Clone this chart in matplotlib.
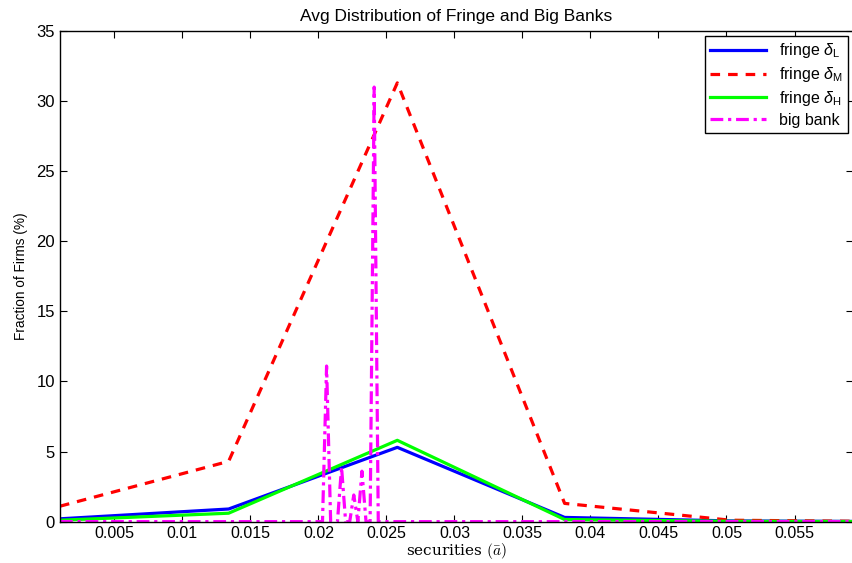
import matplotlib.pyplot as plt

plt.rcParams["font.family"] = ["Liberation Sans", "DejaVu Sans"]
plt.rcParams["mathtext.fontset"] = "custom"
plt.rcParams["mathtext.rm"] = "Liberation Sans"
plt.rcParams["mathtext.it"] = "Liberation Sans:italic"

# fringe grid
x_fringe = [0.001, 0.0134, 0.0258, 0.0381, 0.0503, 0.0626]
fringe_L = [0.2, 0.9, 5.3, 0.3, 0.05, 0.0]
fringe_M = [1.1, 4.3, 31.3, 1.3, 0.1, 0.0]
fringe_H = [0.1, 0.6, 5.8, 0.15, 0.02, 0.0]

# big bank (fine grid, zero away from the spikes)
x_big = [0.001, 0.0203, 0.0206, 0.0209, 0.0214, 0.0217, 0.0220, 0.0223,
         0.0226, 0.0229, 0.0232, 0.0235, 0.0238, 0.0241, 0.0244, 0.0626]
big_bank = [0.0, 0.0, 11.1, 0.0, 0.0, 3.9, 0.0, 0.0,
            1.9, 0.0, 3.6, 0.0, 0.0, 31.0, 0.0, 0.0]

xticks = [0.005, 0.01, 0.015, 0.02, 0.025, 0.03, 0.035, 0.04, 0.045, 0.05, 0.055]
yticks = [0, 5, 10, 15, 20, 25, 30, 35]

fig = plt.figure(figsize=(8.53, 5.63), dpi=100)
ax = fig.add_axes([0.0703, 0.0735, 0.9297, 0.8714])

ax.plot(x_fringe, fringe_L, color="#0000ff", lw=2.3, label=r"fringe $\delta_\mathrm{L}$")
ax.plot(x_fringe, fringe_M, color="#ff0000", lw=2.3, ls=(0, (3, 2.5)), label=r"fringe $\delta_\mathrm{M}$")
ax.plot(x_fringe, fringe_H, color="#00ff00", lw=2.3, label=r"fringe $\delta_\mathrm{H}$")
ax.plot(x_big, big_bank, color="#ff00ff", lw=2.3, ls=(0, (4, 1.5, 1, 1.5)), label="big bank")

ax.set_xlim(0.001, 0.0593)
ax.set_ylim(0, 35)
ax.set_xticks(xticks)
ax.set_xticklabels([f"{t:g}" for t in xticks])
ax.set_yticks(yticks)
ax.tick_params(direction="in", top=True, right=True, labelsize=12, length=5)
ax.tick_params(axis="x", labelsize=11.5, pad=3.5)
for s in ax.spines.values():
    s.set_linewidth(1.0)

ax.set_title("Avg Distribution of Fringe and Big Banks", fontsize=12.5, pad=7)
ax.set_ylabel("Fraction of Firms (%)", fontsize=9.8, labelpad=6)
ax.set_xlabel(r"securities $(\bar{a})$", fontsize=11, family="DejaVu Serif",
              math_fontfamily="cm", labelpad=0)

leg = ax.legend(loc="upper right", fontsize=11.5, fancybox=False, framealpha=1,
                edgecolor="black", borderaxespad=0.3, handlelength=3.5,
                labelspacing=0.3, borderpad=0.35)
leg.get_frame().set_linewidth(1.0)

fig.savefig("out.png", dpi=100)
